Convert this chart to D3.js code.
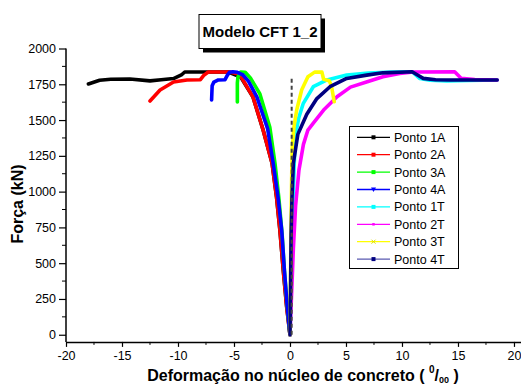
<!DOCTYPE html>
<html><head><meta charset="utf-8">
<script src="https://cdn.jsdelivr.net/npm/d3@7"></script>
<style>body{margin:0;background:#fff}svg{display:block;font-family:"Liberation Sans",Arial,sans-serif}</style>
</head><body><svg id="c" width="521" height="387"></svg>
<script>
const seriesNames = ["Ponto 1A","Ponto 2A","Ponto 3A","Ponto 4A","Ponto 1T","Ponto 2T","Ponto 3T","Ponto 4T"];
const seriesColors = ["#000000","#ff0000","#00ff00","#0000ff","#00ffff","#ff00ff","#ffff00","#000080"];
const p1A = [[0,0],[-0.3,200],[-0.6,450],[-0.9,730],[-1.2,960],[-1.6,1198],[-2.4,1430],[-3.3,1660],[-4.4,1800],[-5.5,1836],[-7.8,1836],[-9.4,1836],[-9.7,1815],[-10.4,1790],[-11.5,1782],[-12.5,1774],[-14.3,1787],[-16,1785],[-17,1778],[-18,1752]];
const p2A = [[0,0],[-0.3,193],[-0.6,452],[-0.75,592],[-0.9,731],[-1.2,962],[-1.6,1198],[-2.4,1430],[-3.3,1660],[-4.5,1820],[-5.4,1836],[-7.3,1836],[-7.7,1812],[-8,1782],[-9.2,1780],[-10.4,1766],[-11.6,1710],[-12.5,1633]];
const p3A = [[0,0],[-0.25,200],[-0.5,450],[-0.7,700],[-1.0,960],[-1.34,1198],[-1.8,1450],[-2.7,1685],[-3.5,1790],[-4.0,1834],[-4.4,1836],[-4.65,1800],[-4.7,1760],[-4.7,1627]];
const p4A = [[0,0],[-0.25,200],[-0.5,450],[-0.74,731],[-1.07,962],[-1.5,1198],[-2.0,1440],[-2.95,1660],[-3.7,1770],[-4.2,1815],[-4.7,1834],[-5.1,1838],[-5.4,1834],[-5.6,1812],[-5.8,1782],[-6.4,1780],[-6.8,1765],[-6.95,1740],[-7.0,1640]];
const p1T = [[0,0],[0.1,300],[0.2,700],[0.3,1000],[0.38,1200],[0.5,1400],[0.8,1520],[1.19,1617],[2.08,1733],[3.3,1780],[5.06,1814],[7,1828],[9,1836],[10.9,1838],[11.6,1790],[12.5,1778],[14,1774],[16,1776],[18.5,1780]];
const p2T = [[0,0],[0.15,300],[0.3,600],[0.5,900],[0.8,1150],[1.2,1330],[1.6,1430],[2.1,1480],[3.0,1570],[4.2,1663],[5.4,1730],[6.9,1768],[8.3,1803],[9.8,1826],[11,1836],[14.7,1838],[15.3,1791],[16.5,1783],[18.5,1780]];
const p3T = [[0,0],[0.05,400],[0.1,800],[0.15,1100],[0.2,1300],[0.35,1450],[0.6,1570],[1.04,1710],[1.6,1803],[2.2,1835],[2.85,1835],[3.0,1785],[3.5,1775],[3.7,1740],[3.95,1628]];
const p4T = [[0,0],[0.05,300],[0.1,700],[0.18,962],[0.3,1198],[0.7,1400],[1.5,1540],[2.4,1650],[3.57,1733],[5.06,1791],[6.85,1814],[8.3,1830],[10.9,1838],[11.5,1810],[11.9,1791],[13,1782],[14.3,1780],[18.5,1780]];
const seriesData = [p1A,p2A,p3A,p4A,p1T,p2T,p3T,p4T];
const xTicks = [-20,-15,-10,-5,0,5,10,15,20];
const yTicks = [0,250,500,750,1000,1250,1500,1750,2000];
const dashedLine = [[0.15,0],[0.15,1800]];

const svg = d3.select("#c");
const x = d3.scaleLinear().domain([-20,20.6]).range([66,520.7]);
const y = d3.scaleLinear().domain([-50,2000]).range([341.9,48.5]);
const fmt = d => String(d);

// series
const line = d3.line().x(d=>x(d[0])).y(d=>y(d[1])).curve(d3.curveLinear);
seriesData.forEach((s,i)=>{
  svg.append("path").attr("d",line(s)).attr("fill","none")
    .attr("stroke",seriesColors[i]).attr("stroke-width",3.6)
    .attr("stroke-linejoin","round").attr("stroke-linecap","round");
});
// dashed line
svg.append("path").attr("d",line(dashedLine)).attr("fill","none")
  .attr("stroke","#444").attr("stroke-width",2).attr("stroke-dasharray","4,3");

// axes
const xAxis = d3.axisBottom(x).tickValues(xTicks).tickFormat(fmt).tickSize(5).tickSizeOuter(0).tickPadding(4);
const gx = svg.append("g").attr("transform",`translate(0,${y(-50)})`).call(xAxis);
gx.select(".domain").attr("stroke","#000").attr("stroke-width",1.5);
gx.selectAll(".tick line").attr("stroke","#000").attr("stroke-width",1.2);
gx.selectAll(".tick text").attr("font-size",12.5).attr("fill","#000").style("font-family","Liberation Sans, Arial, sans-serif");
const xMinor = d3.range(-17.5,20,5);
gx.selectAll(".minor").data(xMinor).enter().append("line")
  .attr("x1",d=>x(d)).attr("x2",d=>x(d)).attr("y1",0).attr("y2",3).attr("stroke","#000");

const yAxis = d3.axisLeft(y).tickValues(yTicks).tickFormat(fmt).tickSize(7).tickSizeOuter(0).tickPadding(3);
const gy = svg.append("g").attr("transform",`translate(${x(-20)},0)`).call(yAxis);
gy.select(".domain").attr("stroke","#000").attr("stroke-width",1.5).attr("d",`M0,${y(2000)}V${y(-50)}`);
gy.selectAll(".tick line").attr("stroke","#000").attr("stroke-width",1.2);
gy.selectAll(".tick text").attr("font-size",12.5).attr("fill","#000").style("font-family","Liberation Sans, Arial, sans-serif");
const yMinor = d3.range(125,2000,250);
gy.selectAll(".minor").data(yMinor).enter().append("line")
  .attr("x1",-4).attr("x2",0).attr("y1",d=>y(d)).attr("y2",d=>y(d)).attr("stroke","#000");

// axis titles
svg.append("text").attr("transform","translate(23,204) rotate(-90)").attr("text-anchor","middle")
  .attr("font-size",16).attr("font-weight","bold").text("Força (kN)");
const xt = svg.append("text").attr("x",303).attr("y",381).attr("text-anchor","middle")
  .attr("font-size",16).attr("font-weight","bold");
xt.append("tspan").text("Deformação no núcleo de concreto ( ");
xt.append("tspan").attr("font-size",10).attr("dy",-8).text("0");
xt.append("tspan").attr("dy",8).text("/");
xt.append("tspan").attr("font-size",9).attr("dy",2).text("00");
xt.append("tspan").attr("dy",-2).text(" )");

// title box
svg.append("rect").attr("x",203).attr("y",18.5).attr("width",122).attr("height",34).attr("fill","#000");
svg.append("rect").attr("x",199).attr("y",14.5).attr("width",122).attr("height",34).attr("fill","#fff").attr("stroke","#000").attr("stroke-width",1);
svg.append("text").attr("x",260).attr("y",37).attr("text-anchor","middle").attr("font-size",15).attr("font-weight","bold").text("Modelo CFT 1_2");

// legend
const lg = svg.append("g");
lg.append("rect").attr("x",349.5).attr("y",126.5).attr("width",109).attr("height",142).attr("fill","#fff").attr("stroke","#000").attr("stroke-width",1);
seriesNames.forEach((n,i)=>{
  const yy = 137.3 + i*17.4;
  const c = seriesColors[i];
  lg.append("line").attr("x1",357).attr("x2",390).attr("y1",yy).attr("y2",yy)
    .attr("stroke", i===7 ? "#5a5ab0" : c).attr("stroke-width",1.3);
  const mx = 373.5;
  if(i===3){
    lg.append("path").attr("d",`M${mx-2.5},${yy-2}L${mx+2.5},${yy-2}L${mx},${yy+2.5}Z`).attr("fill",c);
  } else if(i===6){
    lg.append("path").attr("d",`M${mx-2},${yy-2}L${mx+2},${yy+2}M${mx-2},${yy+2}L${mx+2},${yy-2}`).attr("stroke","#dddd00").attr("stroke-width",1);
  } else {
    const s = i===5 ? 2.5 : 4;
    lg.append("rect").attr("x",mx-s/2).attr("y",yy-s/2).attr("width",s).attr("height",s).attr("fill",c);
  }
  lg.append("text").attr("x",394).attr("y",yy+4.5).attr("font-size",12.5).text(n);
});
</script></body></html>
